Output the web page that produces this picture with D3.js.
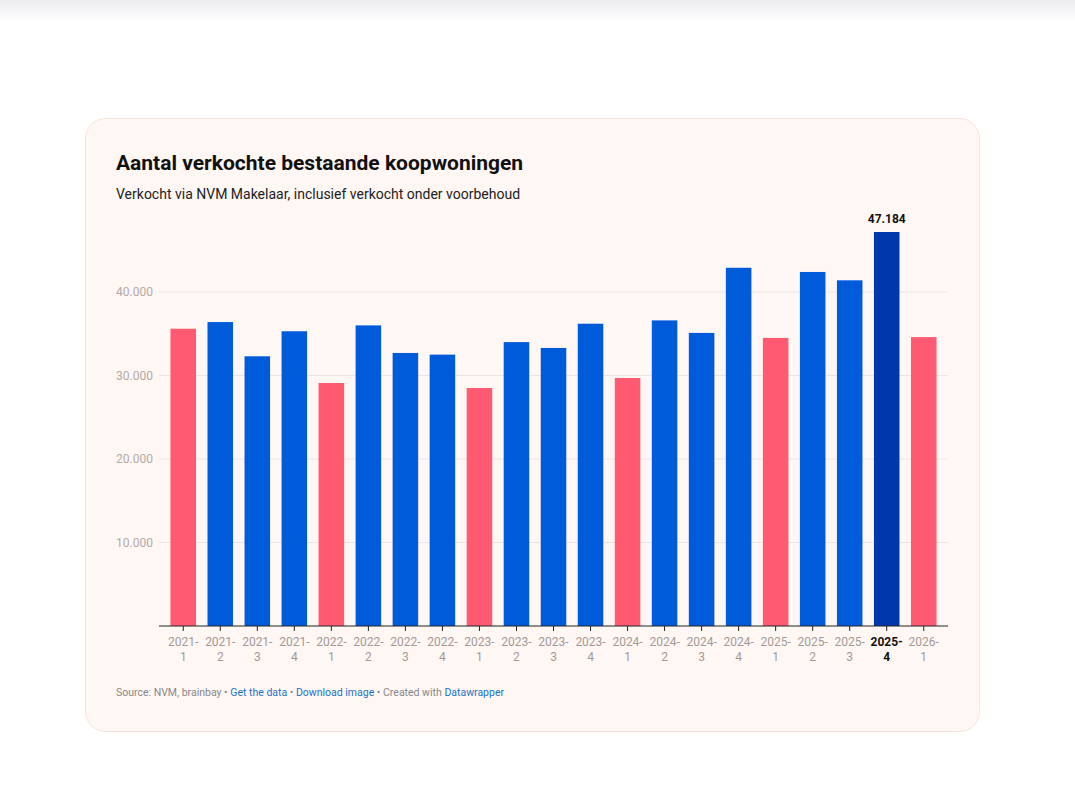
<!DOCTYPE html>
<html><head><meta charset="utf-8">
<script src="https://cdn.jsdelivr.net/npm/d3@7"></script>
<style>body{margin:0;background:#fff;font-family:Roboto,sans-serif}</style>
</head><body><svg id="c" width="1075" height="797"></svg>
<script>
const categories=["2021-1","2021-2","2021-3","2021-4","2022-1","2022-2","2022-3","2022-4","2023-1","2023-2","2023-3","2023-4","2024-1","2024-2","2024-3","2024-4","2025-1","2025-2","2025-3","2025-4","2026-1"];
const values=[35600,36400,32300,35300,29100,36000,32700,32500,28500,34000,33300,36200,29700,36600,35100,42900,34500,42400,41400,47184,34600];
const yTicks=[10000,20000,30000,40000];
const highlight="2025-4";
const svg=d3.select("#c");
const defs=svg.append("defs");
const g=defs.append("linearGradient").attr("id","tg").attr("x1",0).attr("x2",0).attr("y1",0).attr("y2",1);
g.append("stop").attr("offset",0).attr("stop-color","#ecebef");
g.append("stop").attr("offset",1).attr("stop-color","#fff");
svg.append("rect").attr("width",1075).attr("height",22).attr("fill","url(#tg)");
svg.append("rect").attr("x",85.5).attr("y",118.5).attr("width",894).attr("height",613).attr("rx",20)
 .attr("fill","#fff7f4").attr("stroke","#f7e4dc");
svg.append("text").attr("x",116).attr("y",170).text("Aantal verkochte bestaande koopwoningen")
 .attr("font-size",21).attr("font-weight",700).attr("fill","#111");
svg.append("text").attr("x",116).attr("y",199).text("Verkocht via NVM Makelaar, inclusief verkocht onder voorbehoud")
 .attr("font-size",14).attr("fill","#222");
const x=d3.scaleBand().domain(categories).range([159,948]).padding(0.31);
const y=d3.scaleLinear().domain([0,40000]).range([626,292]);
const fmt=d=>d3.format(",")(d).replace(/,/g,".");
yTicks.forEach(t=>{
 svg.append("line").attr("x1",159).attr("x2",948).attr("y1",y(t)).attr("y2",y(t)).attr("stroke","#ece6e3");
 svg.append("text").attr("x",153).attr("y",y(t)+4).attr("text-anchor","end").attr("font-size",12).attr("fill","#b3a9a5").text(fmt(t));
});
const isPink=c=>c.endsWith("-1");
svg.selectAll("rect.bar").data(categories).enter().append("rect").attr("class","bar")
 .attr("x",d=>x(d)).attr("width",x.bandwidth())
 .attr("y",(d,i)=>y(values[i])).attr("height",(d,i)=>626-y(values[i]))
 .attr("fill",d=>d===highlight?"#0037ad":isPink(d)?"#ff5a72":"#005bdb");
svg.append("line").attr("x1",159).attr("x2",948).attr("y1",626).attr("y2",626).attr("stroke","#222");
categories.forEach((c,i)=>{
 const cx=x(c)+x.bandwidth()/2, hl=c===highlight;
 svg.append("line").attr("x1",cx).attr("x2",cx).attr("y1",626).attr("y2",631).attr("stroke","#222");
 const [a,b]=c.split("-");
 const t=svg.append("text").attr("text-anchor","middle").attr("font-size",12)
  .attr("fill",hl?"#111":"#a39a96").attr("font-weight",hl?700:400);
 t.append("tspan").attr("x",cx).attr("y",646).text(a+"-");
 t.append("tspan").attr("x",cx).attr("y",661).text(b);
 if(hl) svg.append("text").attr("x",cx).attr("y",y(values[i])-9).attr("text-anchor","middle")
  .attr("font-size",12).attr("font-weight",700).attr("fill","#111").text(fmt(values[i]));
});
const f=svg.append("text").attr("x",116).attr("y",696).attr("font-size",10.5).attr("fill","#888");
f.append("tspan").text("Source: NVM, brainbay • ");
f.append("tspan").attr("fill","#1a73c8").text("Get the data");
f.append("tspan").text(" • ");
f.append("tspan").attr("fill","#1a73c8").text("Download image");
f.append("tspan").text(" • Created with ");
f.append("tspan").attr("fill","#1a73c8").text("Datawrapper");
</script></body></html>
